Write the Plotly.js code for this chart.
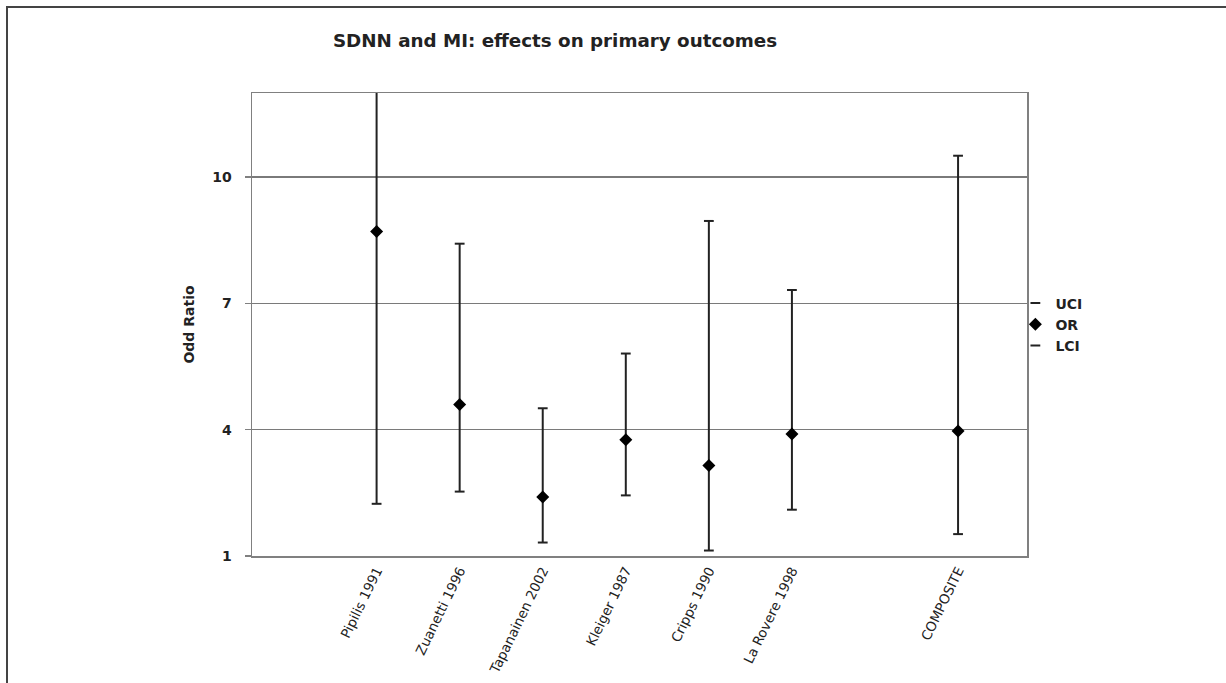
<!DOCTYPE html>
<html>
<head>
<meta charset="utf-8">
<script src="https://cdn.plot.ly/plotly-3.0.1.min.js"></script>
<style>
  html, body { margin: 0; padding: 0; background: #ffffff; overflow: hidden; }
  #frame { position: absolute; left: 6px; top: 6px; width: 1400px; height: 900px; border: 2px solid #444; box-sizing: border-box; pointer-events: none; z-index: 2; }
  #chart { position: absolute; left: 0; top: 0; width: 1226px; height: 683px; }
</style>
</head>
<body>
<div id="chart"></div>
<div id="frame"></div>
<script>
// ---- data ----
const studies = ['Pipilis 1991', 'Zuanetti 1996', 'Tapanainen 2002', 'Kleiger 1987', 'Cripps 1990', 'La Rovere 1998', 'COMPOSITE'];
const oddsRatio = [8.71, 4.60, 2.40, 3.76, 3.15, 3.90, 3.97];
const upperCI   = [12.3, 8.42, 4.51, 5.81, 8.96, 7.32, 10.51];
const lowerCI   = [2.24, 2.53, 1.32, 2.44, 1.13, 2.10, 1.52];
const yTicks    = [1, 4, 7, 10];

// category order with a blank slot before the composite
const categoryOrder = studies.slice(0, 6).concat([' ', studies[6]]);

const font = 'DejaVu Sans, Verdana, sans-serif';
const ink = '#222';

const errTrace = {
  x: studies, y: oddsRatio, type: 'scatter', mode: 'markers',
  marker: { size: 1, color: 'rgba(0,0,0,0)' },
  error_y: {
    type: 'data', symmetric: false,
    array: upperCI.map((u, i) => u - oddsRatio[i]),
    arrayminus: lowerCI.map((l, i) => oddsRatio[i] - l),
    color: '#222', thickness: 2, width: 0
  },
  showlegend: false, hoverinfo: 'skip'
};
const uciTrace = {
  x: studies, y: upperCI, type: 'scatter', mode: 'markers', name: 'UCI',
  marker: { symbol: 'line-ew-open', size: 7, color: '#222', line: { color: '#222', width: 2 } }
};
const orTrace = {
  x: studies, y: oddsRatio, type: 'scatter', mode: 'markers', name: 'OR',
  marker: { symbol: 'diamond', size: 10, color: '#000' }
};
const lciTrace = {
  x: studies, y: lowerCI, type: 'scatter', mode: 'markers', name: 'LCI',
  marker: { symbol: 'line-ew-open', size: 7, color: '#222', line: { color: '#222', width: 2 } }
};

const layout = {
  width: 1226, height: 683,
  margin: { l: 252, r: 199, t: 93, b: 127 },
  paper_bgcolor: 'rgba(0,0,0,0)', plot_bgcolor: '#ffffff',
  font: { family: font, color: ink },
  title: {
    text: '<b>SDNN and MI: effects on primary outcomes</b>',
    font: { family: font, size: 18.3, color: '#222' },
    xref: 'container', yref: 'container', x: 555 / 1226, xanchor: 'center',
    y: 1 - 41 / 683, yanchor: 'middle'
  },
  xaxis: {
    type: 'category', categoryorder: 'array', categoryarray: categoryOrder,
    range: [-1.5, 7.83],
    showgrid: false, zeroline: false,
    showline: true, mirror: true, linecolor: '#808080', linewidth: 1.5,
    ticks: '', tickangle: -64,
    tickfont: { family: font, size: 13.5, color: '#222' }
  },
  yaxis: {
    range: [1, 12], tickvals: yTicks, ticktext: yTicks.map(String),
    showgrid: true, gridcolor: '#7a7a7a', gridwidth: 1.5,
    zeroline: false,
    showline: true, mirror: true, linecolor: '#808080', linewidth: 1.5,
    ticks: 'outside', ticklen: 6, tickcolor: '#808080', tickwidth: 1.5,
    ticklabelstandoff: 10,
    tickfont: { family: font, size: 14, color: '#222', weight: 'bold' },
    title: { text: '<b>Odd Ratio</b>', font: { family: font, size: 14, color: '#222' }, standoff: 14 }
  },
  legend: {
    x: 0.985, xanchor: 'left', y: 0.5, yanchor: 'middle',
    bgcolor: 'rgba(0,0,0,0)', borderwidth: 0,
    font: { family: font, size: 14, color: '#222', weight: 'bold' },
    itemwidth: 30, tracegroupgap: 0
  },
  showlegend: true
};

Plotly.newPlot('chart', [errTrace, uciTrace, orTrace, lciTrace], layout, { displayModeBar: false, staticPlot: true });
</script>
</body>
</html>
